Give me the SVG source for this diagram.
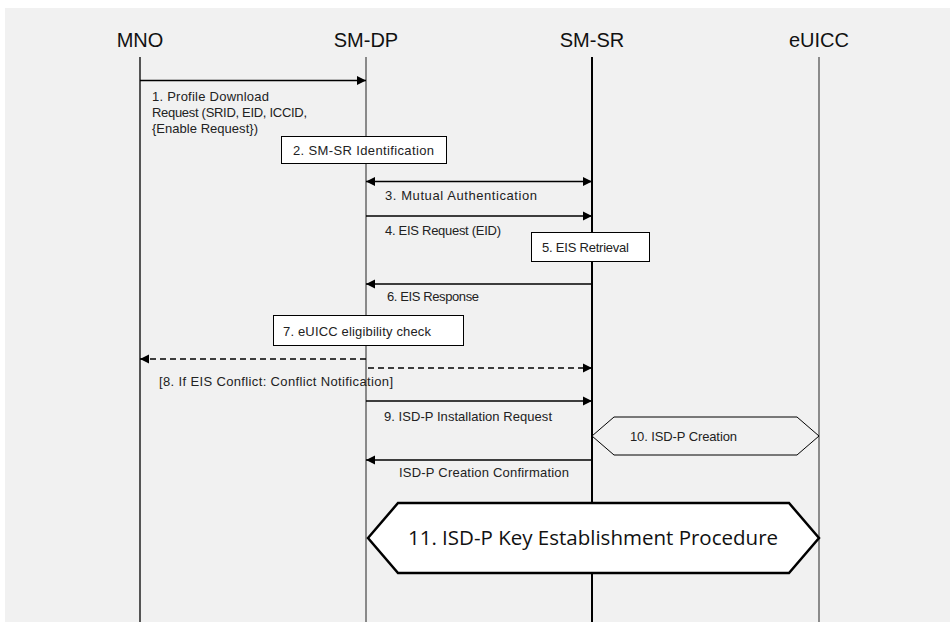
<svg xmlns="http://www.w3.org/2000/svg" width="950" height="622" viewBox="0 0 950 622">
<defs>
<marker id="ah" viewBox="0 0 10 10" refX="10" refY="5" markerWidth="9" markerHeight="10" markerUnits="userSpaceOnUse" orient="auto-start-reverse">
<path d="M0,0 L10,5 L0,10 Z" fill="#000"/>
</marker>
</defs>
<style>
.hdr{font-family:"Liberation Sans",Arial,sans-serif;font-size:20px;fill:#111;text-anchor:middle}
.lbl{font-family:"Liberation Sans",Arial,sans-serif;font-size:13px;fill:#222}
.box{fill:#fff;stroke:#000;stroke-width:1}
.msg{stroke:#000;stroke-width:1.5;fill:none}
.dash{stroke-dasharray:6,4}
.big{font-family:"Open Sans","Liberation Sans",sans-serif;font-size:20.5px;fill:#111;text-anchor:middle}
</style>
<rect x="5" y="8" width="945" height="614" fill="#f1f1f1"/>
<g id="MNO"><text class="hdr" x="140" y="47">MNO</text><line x1="140" y1="57" x2="140" y2="622" stroke="#000" stroke-width="1.3"/></g>
<g id="SM-DP"><text class="hdr" x="366" y="47">SM-DP</text><line x1="366" y1="57" x2="366" y2="622" stroke="#222" stroke-width="1"/></g>
<g id="SM-SR"><text class="hdr" x="592" y="47">SM-SR</text><line x1="592" y1="57" x2="592" y2="622" stroke="#000" stroke-width="2"/></g>
<g id="eUICC"><text class="hdr" x="819" y="47">eUICC</text><line x1="819" y1="57" x2="819" y2="622" stroke="#555" stroke-width="1.3"/></g>
<g id="connectors">
<line class="msg" x1="140" y1="80.5" x2="366" y2="80.5" marker-end="url(#ah)"/>
<line class="msg" x1="366" y1="181.5" x2="592" y2="181.5" marker-start="url(#ah)" marker-end="url(#ah)"/>
<line class="msg" x1="366" y1="216" x2="592" y2="216" marker-end="url(#ah)"/>
<line class="msg" x1="592" y1="284" x2="366" y2="284" marker-end="url(#ah)"/>
<line class="msg dash" x1="366" y1="359" x2="140" y2="359" marker-end="url(#ah)"/>
<line class="msg dash" x1="368" y1="368" x2="592" y2="368" marker-end="url(#ah)"/>
<line class="msg" x1="366" y1="401" x2="592" y2="401" marker-end="url(#ah)"/>
<line class="msg" x1="592" y1="460" x2="366" y2="460" marker-end="url(#ah)"/>
</g>
<g id="m1"><text class="lbl" x="152" y="101" textLength="117">1. Profile Download</text><text class="lbl" x="152" y="117" textLength="155">Request (SRID, EID, ICCID,</text><text class="lbl" x="152" y="133" textLength="106">{Enable Request})</text></g>
<g id="n2"><rect class="box" x="281.5" y="136.5" width="165" height="27"/><text class="lbl" x="293" y="155" textLength="141">2. SM-SR Identification</text></g>
<g id="m3"><text class="lbl" x="385" y="200" textLength="152">3. Mutual Authentication</text></g>
<g id="m4"><text class="lbl" x="385" y="235" textLength="116">4. EIS Request (EID)</text></g>
<g id="n5"><rect class="box" x="531.5" y="232.5" width="118" height="29"/><text class="lbl" x="542" y="252" textLength="87">5. EIS Retrieval</text></g>
<g id="m6"><text class="lbl" x="387" y="301" textLength="92">6. EIS Response</text></g>
<g id="n7"><rect class="box" x="273.5" y="315.5" width="190" height="30"/><text class="lbl" x="283" y="336" textLength="148">7. eUICC eligibility check</text></g>
<g id="m8"><text class="lbl" x="159" y="386" textLength="234">[8. If EIS Conflict:  Conflict Notification]</text></g>
<g id="m9"><text class="lbl" x="384" y="421" textLength="168">9. ISD-P Installation Request</text></g>
<g id="n10"><polygon points="592,436 614,417 797,417 819,436 797,455 614,455" fill="#f1f1f1" stroke="#000" stroke-width="1"/><text class="lbl" x="630" y="441" textLength="107">10. ISD-P Creation</text></g>
<g id="m10c"><text class="lbl" x="399" y="477" textLength="170">ISD-P Creation Confirmation</text></g>
<g id="n11"><polygon points="368,538 398,503 789,503 819,538 789,573 398,573" fill="#fff" stroke="#000" stroke-width="2.5" stroke-linejoin="miter"/><text class="big" x="593" y="545">11. ISD-P Key Establishment Procedure</text></g>
</svg>
